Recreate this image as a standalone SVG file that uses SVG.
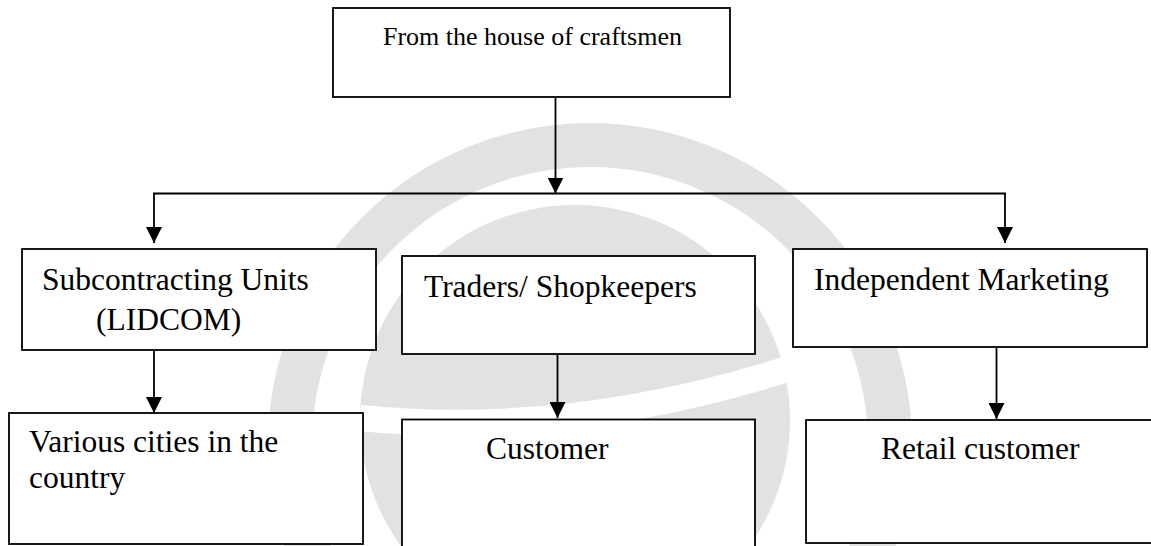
<svg xmlns="http://www.w3.org/2000/svg" width="1151" height="546" viewBox="0 0 1151 546">
  <defs>
    <style>
      .box { fill: #ffffff; stroke: #000000; stroke-width: 1.8; }
      .lbl { font-family: "Liberation Serif", "Times New Roman", serif; font-size: 31.5px; fill: #000000; }
      .lbl-top { font-size: 26px; }
      .wire { fill: none; stroke: #000000; stroke-width: 1.8; }
      .mark { fill: none; stroke: #e2e2e2; }
    </style>
    <marker id="head" viewBox="0 0 16 16" refX="16" refY="8" markerWidth="16" markerHeight="16" markerUnits="userSpaceOnUse" orient="auto">
      <path d="M0,0 L16,8 L0,16 Z" fill="#000000"/>
    </marker>
  </defs>

  <rect width="1151" height="546" fill="#ffffff"/>

  <!-- faint background emblem: outer ring, inner disc split by a light crescent -->
  <g id="emblem">
    <circle class="mark" cx="590" cy="445" r="300" stroke-width="44"/>
    <circle cx="575" cy="420" r="215" fill="#e2e2e2"/>
    <path d="M360,418 Q580,440 815,360" fill="none" stroke="#ffffff" stroke-width="26"/>
  </g>

  <!-- connectors -->
  <g id="connectors">
    <line class="wire" x1="555.5" y1="97" x2="555.5" y2="193.5" marker-end="url(#head)"/>
    <line class="wire" x1="153" y1="193.5" x2="1006" y2="193.5"/>
    <line class="wire" x1="154" y1="193.5" x2="154" y2="243" marker-end="url(#head)"/>
    <line class="wire" x1="1005" y1="193.5" x2="1005" y2="243" marker-end="url(#head)"/>
    <line class="wire" x1="154" y1="350" x2="154" y2="413" marker-end="url(#head)"/>
    <line class="wire" x1="557.5" y1="354" x2="557.5" y2="418" marker-end="url(#head)"/>
    <line class="wire" x1="996.5" y1="347" x2="996.5" y2="419" marker-end="url(#head)"/>
  </g>

  <!-- source -->
  <g id="node-source">
    <rect class="box" x="333" y="8" width="397" height="89"/>
    <text class="lbl lbl-top" x="383" y="45">From the house of craftsmen</text>
  </g>

  <!-- channels -->
  <g id="node-subcontracting">
    <rect class="box" x="22" y="249" width="354" height="101"/>
    <text class="lbl" x="42" y="290">Subcontracting Units</text>
    <text class="lbl" x="96" y="330">(LIDCOM)</text>
  </g>

  <g id="node-traders">
    <rect class="box" x="402" y="256" width="353" height="98"/>
    <text class="lbl" x="424" y="297">Traders/ Shopkeepers</text>
  </g>

  <g id="node-independent">
    <rect class="box" x="793" y="249" width="354" height="98"/>
    <text class="lbl" x="814" y="290">Independent Marketing</text>
  </g>

  <!-- end points -->
  <g id="node-cities">
    <rect class="box" x="9" y="413" width="354" height="131"/>
    <text class="lbl" x="29" y="452">Various cities in the</text>
    <text class="lbl" x="29" y="488">country</text>
  </g>

  <g id="node-customer">
    <rect class="box" x="402" y="419.5" width="353" height="140"/>
    <text class="lbl" x="486" y="459">Customer</text>
  </g>

  <g id="node-retail">
    <rect class="box" x="806" y="420" width="360" height="123"/>
    <text class="lbl" x="881" y="459">Retail customer</text>
  </g>
</svg>
